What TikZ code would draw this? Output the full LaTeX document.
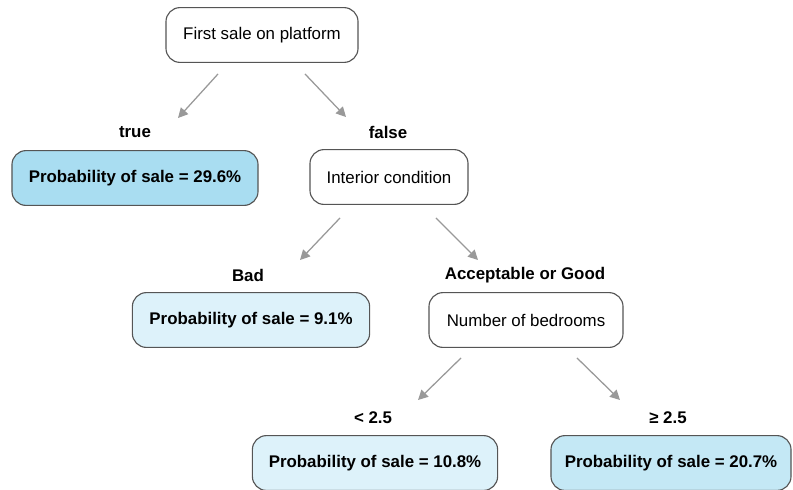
\documentclass[tikz,border=0pt]{standalone}
\usepackage{fontspec}
\setmainfont{Liberation Sans}
\usepackage{xcolor}
\usetikzlibrary{arrows.meta}

\definecolor{leafhigh}{HTML}{A9DDF1}
\definecolor{leafmid}{HTML}{C4E8F5}
\definecolor{leaflow}{HTML}{DDF2FA}
\definecolor{boxline}{HTML}{555555}
\definecolor{arrgray}{HTML}{999999}

\tikzset{
  question/.style={draw=boxline,rounded corners=10pt,line width=0.8pt,minimum height=1.37cm,
    fill=white,font=\fontsize{12}{14}\selectfont},
  leaf/.style={question,font=\fontsize{12}{14}\selectfont\bfseries},
  branchlbl/.style={font=\fontsize{12}{14}\selectfont\bfseries},
  arr/.style={draw=arrgray,line width=0.9pt,-{Triangle[length=7pt,width=7pt]}}
}

\begin{document}
\begin{tikzpicture}[x=0.025cm,y=-0.025cm]
    \useasboundingbox (0,0) rectangle (793,489);
    \clip (0,0) rectangle (793,489);

    % root question
    \node[question,minimum width=4.8cm] (root) at (262,35) {First sale on platform};

    % first split
    \node[branchlbl] (truelbl) at (135,132) {true};
    \node[branchlbl] (falselbl) at (388,132) {false};
    \node[leaf,fill=leafhigh,minimum width=6.15cm] (leaftrue) at (135,178) {Probability of sale = 29.6\%};
    \node[question,minimum width=3.95cm] (interior) at (389,177) {Interior condition};

    \draw[arr] ([shift={(-44,11)}]root.south) -- ([shift={(43,-14)}]truelbl.center);
    \draw[arr] ([shift={(43,11)}]root.south) -- ([shift={(-42,-15)}]falselbl.center);

    % interior condition
    \node[branchlbl] (badlbl) at (248,275) {Bad};
    \node[branchlbl] (goodlbl) at (525,275) {Acceptable or Good};
    \node[leaf,fill=leaflow,minimum width=5.93cm] (leafbad) at (251,320) {Probability of sale = 9.1\%};
    \node[question,minimum width=4.85cm] (bedrooms) at (526,320) {Number of bedrooms};

    \draw[arr] ([shift={(-49,13)}]interior.south) -- ([shift={(52,-15)}]badlbl.center);
    \draw[arr] ([shift={(47,13)}]interior.south) -- ([shift={(-47,-15)}]goodlbl.center);

    % number of bedrooms
    \node[branchlbl] (lowlbl) at (373,418) {< 2.5};
    \node[branchlbl] (highlbl) at (668,418) {≥ 2.5};
    \node[leaf,fill=leaflow,minimum width=6.13cm] (leaflow) at (375,463) {Probability of sale = 10.8\%};
    \node[leaf,fill=leafmid,minimum width=6.0cm] (leafhigh) at (671,463) {Probability of sale = 20.7\%};

    \draw[arr] ([shift={(-65,10)}]bedrooms.south) -- ([shift={(45,-18)}]lowlbl.center);
    \draw[arr] ([shift={(51,10)}]bedrooms.south) -- ([shift={(-48,-18)}]highlbl.center);
\end{tikzpicture}
\end{document}
